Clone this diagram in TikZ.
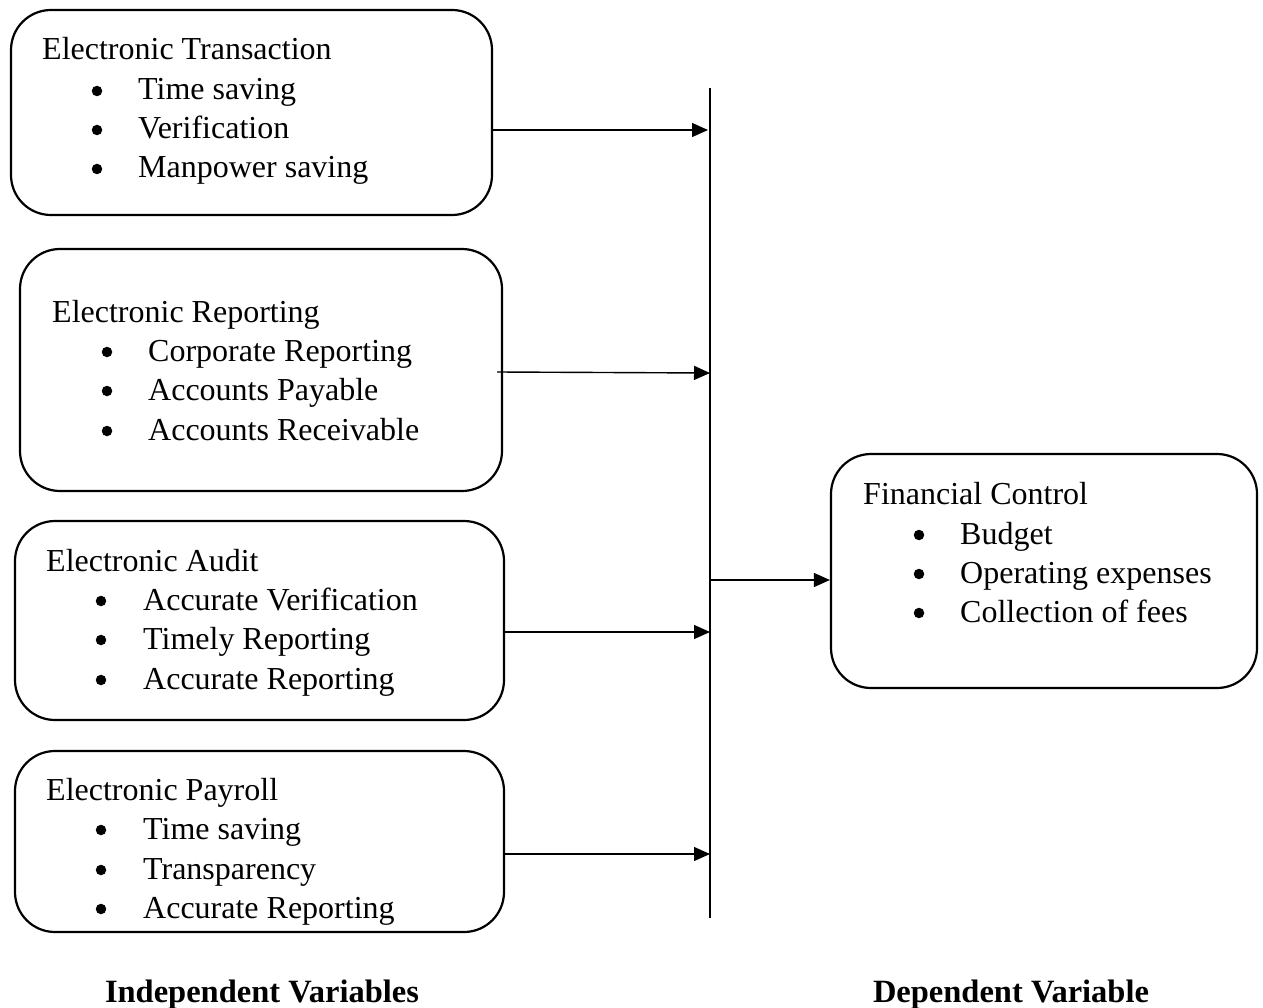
\documentclass[tikz,border=0pt]{standalone}
\usepackage{fontspec}
\setmainfont{Liberation Serif}
\usetikzlibrary{arrows.meta}
\begin{document}
\begin{tikzpicture}[x=1pt,y=-1pt,
  box/.style={draw,line width=2.2pt,rounded corners=40pt,inner sep=0pt},
  txt/.style={anchor=base west,inner sep=0pt,font=\fontsize{32}{38}\selectfont},
  bul/.style={circle,fill,inner sep=0pt,minimum size=10.5pt,yshift=9pt},
  lab/.style={anchor=base,inner sep=0pt,font=\fontsize{32.5}{38}\selectfont\bfseries},
  arr/.style={line width=1.4pt,-{Triangle[length=16pt,width=14pt]}}]
\useasboundingbox (0,0) rectangle (1263,1008);
% boxes
\node[box,minimum width=481pt,minimum height=205pt] (b1) at (251.5,112.5) {};
\node[box,minimum width=482pt,minimum height=242pt] (b2) at (261,370) {};
\node[box,minimum width=489pt,minimum height=199pt] (b3) at (259.5,620.5) {};
\node[box,minimum width=489pt,minimum height=181pt] (b4) at (259.5,841.5) {};
\node[box,minimum width=426pt,minimum height=234pt] (b5) at (1044,571) {};
% box 1
\node[txt] (t1) at (42,60) {Electronic Transaction};
\node[bul] (t1a) at (97,100) {}; \node[txt] (t1b) at (138,100) {Time saving};
\node[bul] (t1c) at (97,139) {}; \node[txt] (t1d) at (138,139) {Verification};
\node[bul] (t1e) at (97,178) {}; \node[txt] (t1f) at (138,178) {Manpower saving};
% box 2
\node[txt] (t2) at (52,322) {Electronic Reporting};
\node[bul] (t2a) at (107,361) {}; \node[txt] (t2b) at (148,361) {Corporate Reporting};
\node[bul] (t2c) at (107,400) {}; \node[txt] (t2d) at (148,400) {Accounts Payable};
\node[bul] (t2e) at (107,440) {}; \node[txt] (t2f) at (148,440) {Accounts Receivable};
% box 3
\node[txt] (t3) at (46,571) {Electronic Audit};
\node[bul] (t3a) at (101,610) {}; \node[txt] (t3b) at (143,610) {Accurate Verification};
\node[bul] (t3c) at (101,649) {}; \node[txt] (t3d) at (143,649) {Timely Reporting};
\node[bul] (t3e) at (101,689) {}; \node[txt] (t3f) at (143,689) {Accurate Reporting};
% box 4
\node[txt] (t4) at (46,800) {Electronic Payroll};
\node[bul] (t4a) at (101,839) {}; \node[txt] (t4b) at (143,839) {Time saving};
\node[bul] (t4c) at (101,879) {}; \node[txt] (t4d) at (143,879) {Transparency};
\node[bul] (t4e) at (101,918) {}; \node[txt] (t4f) at (143,918) {Accurate Reporting};
% box 5
\node[txt] (t5) at (863,504) {Financial Control};
\node[bul] (t5a) at (919,544) {}; \node[txt] (t5b) at (960,544) {Budget};
\node[bul] (t5c) at (919,583) {}; \node[txt] (t5d) at (960,583) {Operating expenses};
\node[bul] (t5e) at (919,622) {}; \node[txt] (t5f) at (960,622) {Collection of fees};
% vertical line
\coordinate (vt) at (710,88);
\coordinate (vb) at (710,918);
\draw[line width=1.2pt] (vt) -- (vb);
\coordinate (e1) at (708,130);
\coordinate (e2) at (710,373);
\coordinate (e3) at (710,632);
\coordinate (e4) at (710,854);
\coordinate (s5) at (710,580);
\draw[arr] (b1.east |- e1) -- (e1);
\draw[arr] (497,372) coordinate (s2) -- (e2);
\draw[arr] (b3.east |- e3) -- (e3);
\draw[arr] (b4.east |- e4) -- (e4);
\draw[arr] (s5) -- (b5.west |- s5);
% labels
\node[lab] (l1) at (262,1002) {Independent Variables};
\node[lab] (l2) at (1011,1002) {Dependent Variable};
\end{tikzpicture}
\end{document}
